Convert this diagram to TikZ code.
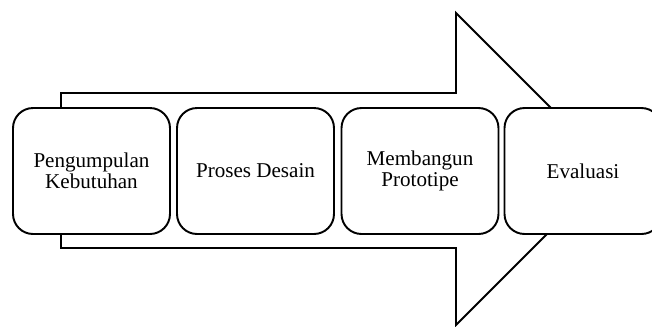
\documentclass[tikz,border=0pt]{standalone}
\usepackage{fontspec}
\setmainfont{Liberation Serif}
\usepackage{tikz}
\usetikzlibrary{positioning}

\tikzset{
	tahap/.style={draw, line width=1.1pt, rounded corners=0.4cm, fill=white,
		minimum width=3.14cm, minimum height=2.52cm, inner sep=2pt,
		align=center, font=\fontsize{12}{12}\selectfont}
}

\begin{document}
\begin{tikzpicture}[x=0.02cm, y=-0.02cm]
				\clip (0, 0) rectangle (652, 326);
				% panah besar di belakang
				\draw [line width=1.1pt, line join=miter] (61, 93) -- (456, 93) -- (456, 13) -- (612, 169)
					-- (456, 325) -- (456, 248) -- (61, 248) -- cycle;

				\node [tahap] (kebutuhan) at (91.5, 171) {Pengumpulan\\Kebutuhan};
				\node [tahap] (desain) at (255.5, 171) {Proses Desain};
				\node [tahap] (prototipe) at (420, 171) {Membangun\\Prototipe};
				\node [tahap] (evaluasi) at (583, 171) {Evaluasi};
		\end{tikzpicture}
\end{document}
